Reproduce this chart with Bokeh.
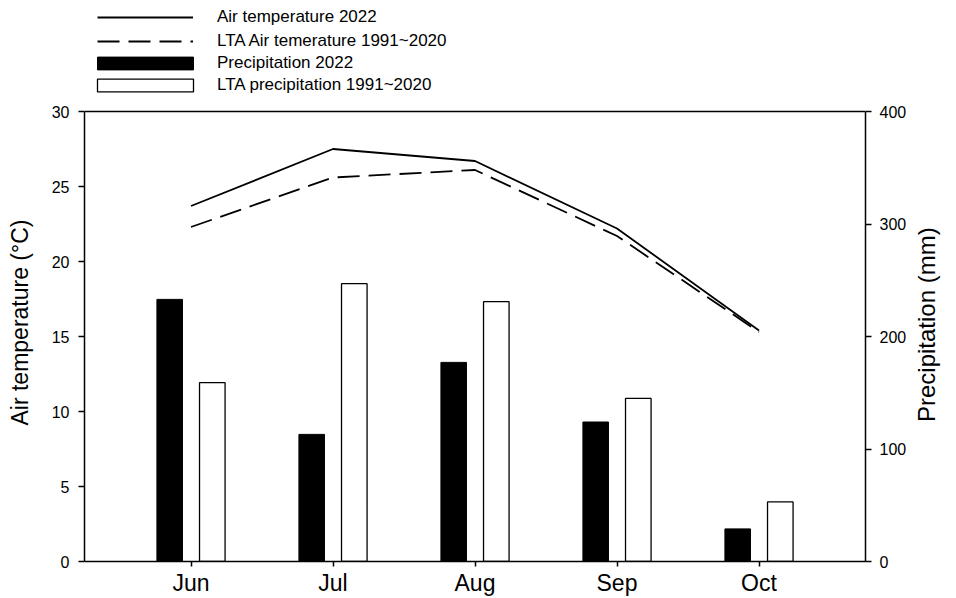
import math
from bokeh.plotting import figure
from bokeh.models import (Range1d, LinearAxis, FixedTicker, ColumnDataSource,
                          Legend, LegendItem, Span)
from bokeh.transform import dodge
from bokeh.embed import file_html
from bokeh.resources import INLINE

# ---- data ----
months = ["Jun", "Jul", "Aug", "Sep", "Oct"]
month_pos = [1, 2, 3, 4, 5]
temp_2022 = [23.7, 27.5, 26.7, 22.2, 15.4]
temp_lta = [22.3, 25.6, 26.1, 21.7, 15.3]
precip_2022 = [233, 113, 177, 124, 29]
precip_lta = [159, 247, 231, 145, 53]
temp_ticks = [0, 5, 10, 15, 20, 25, 30]
precip_ticks = [0, 100, 200, 300, 400]
temp_max, precip_max = 30, 400

# ---- layout constants ----
FONT = "Liberation Sans"
NB = "\u00a0"
H, FRAME_BOTTOM, BOX_TOP = 598, 561, 111          # pixel layout
stretch = FRAME_BOTTOM / (FRAME_BOTTOM - BOX_TOP)  # frame reaches page top, box ends at BOX_TOP
precip_title_start = 124                           # where the right title begins (axis units)

src = ColumnDataSource(dict(x=month_pos, t22=temp_2022, tlta=temp_lta,
                            p22=precip_2022, plta=precip_lta))

p = figure(width=956, height=H, output_backend="svg", toolbar_location=None,
           x_range=Range1d(0.25, 5.75), y_range=Range1d(0, temp_max * stretch),
           min_border_left=84, min_border_right=89, min_border_top=0,
           min_border_bottom=H - FRAME_BOTTOM)
p.extra_y_ranges = {"precip": Range1d(0, precip_max * stretch)}
p.grid.visible = False
p.outline_line_color = None
p.background_fill_color = "white"
p.border_fill_color = "white"

# top edge of the box
p.add_layout(Span(location=temp_max, dimension="width", line_color="black",
                  line_width=1.5))

# bottom axis
xa = p.xaxis[0]
xa.ticker = FixedTicker(ticks=month_pos)
xa.major_label_overrides = {m: lab for m, lab in zip(month_pos, months)}
xa.major_tick_out = 5
xa.major_tick_in = 0
xa.minor_tick_line_color = None
xa.major_label_standoff = 3
xa.major_label_text_font = FONT
xa.major_label_text_font_size = "23px"
xa.major_label_text_color = "black"
xa.axis_line_width = 1.5
xa.axis_line_color = "black"
xa.major_tick_line_width = 1.5

# left axis
ya = p.yaxis[0]
ya.ticker = FixedTicker(ticks=temp_ticks)
ya.bounds = (0, temp_max)
ya.axis_label = "Air temperature (°C)" + NB * 13
ya.axis_label_text_font = FONT
ya.axis_label_text_font_size = "23px"
ya.axis_label_text_font_style = "normal"
ya.axis_label_text_color = "black"
ya.axis_label_standoff = 16
ya.major_tick_out = 6
ya.major_tick_in = 0
ya.minor_tick_line_color = None
ya.major_label_standoff = 9
ya.major_label_text_font = FONT
ya.major_label_text_font_size = "16px"
ya.major_label_text_color = "black"
ya.axis_line_width = 1.5
ya.major_tick_line_width = 1.5

# right axis (ticks + numbers)
ra = LinearAxis(y_range_name="precip", ticker=FixedTicker(ticks=precip_ticks),
                bounds=(0, precip_max))
ra.major_tick_out = 6
ra.major_tick_in = 0
ra.minor_tick_line_color = None
ra.major_label_standoff = 8
ra.major_label_text_font = FONT
ra.major_label_text_font_size = "16px"
ra.major_label_text_color = "black"
ra.axis_line_width = 1.5
ra.major_tick_line_width = 1.5
p.add_layout(ra, "right")

# outer right axis carrying the title, read from bottom to top
ta = LinearAxis(y_range_name="precip",
                ticker=FixedTicker(ticks=[precip_title_start]))
ta.major_label_overrides = {precip_title_start: "Precipitation (mm)"}
ta.major_label_orientation = math.pi / 2
ta.axis_line_color = None
ta.major_tick_out = 0
ta.major_tick_in = 0
ta.major_tick_line_color = None
ta.minor_tick_line_color = None
ta.major_label_standoff = 17
ta.major_label_text_font = FONT
ta.major_label_text_font_size = "24px"
ta.major_label_text_color = "black"
p.add_layout(ta, "right")

# bars
b1 = p.vbar(x=dodge("x", -0.15, range=p.x_range), top="p22", width=0.18,
            y_range_name="precip", source=src, fill_color="black",
            line_color="black", line_width=1)
b2 = p.vbar(x=dodge("x", 0.15, range=p.x_range), top="plta", width=0.18,
            y_range_name="precip", source=src, fill_color="white",
            line_color="black", line_width=1.3)

# lines
l1 = p.line("x", "t22", source=src, line_color="black", line_width=1.8)
l2 = p.line("x", "tlta", source=src, line_color="black", line_width=1.8,
            line_dash="22 9")

leg_style = dict(padding=0, margin=0, border_line_alpha=0,
                 background_fill_alpha=0, label_text_font=FONT,
                 label_text_font_size="17px", label_text_color="black")
leg1 = Legend(items=[LegendItem(label="Air temperature 2022", renderers=[l1]),
                     LegendItem(label="LTA Air temerature 1991~2020", renderers=[l2])],
              location=(13, 509), glyph_width=96, glyph_height=22,
              label_height=22, spacing=2, label_standoff=24, **leg_style)
leg2 = Legend(items=[LegendItem(label="Precipitation 2022", renderers=[b1]),
                     LegendItem(label="LTA precipitation 1991~2020", renderers=[b2])],
              location=(1, 465), glyph_width=120, glyph_height=16,
              label_height=22, spacing=0, label_standoff=12, **leg_style)
p.add_layout(leg1)
p.add_layout(leg2)

open("out.html", "w").write(file_html(p, INLINE))
